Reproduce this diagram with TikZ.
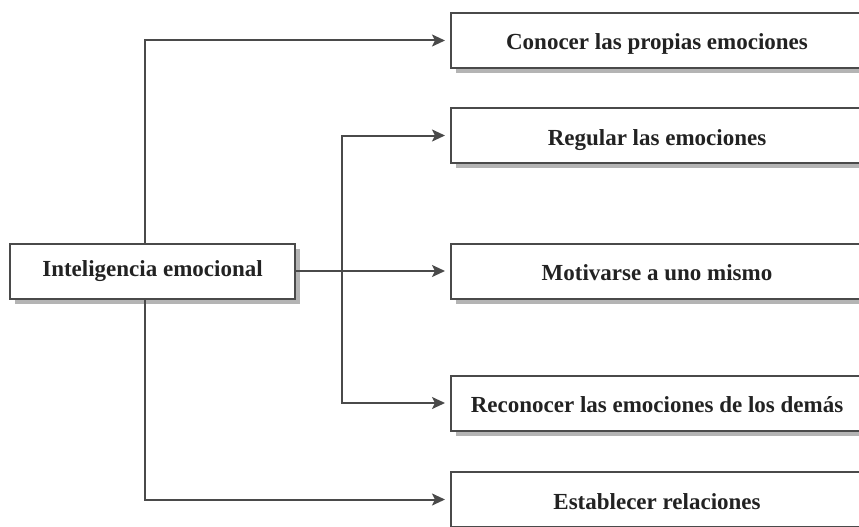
\documentclass[tikz,border=0pt]{standalone}
\usepackage{fontspec}
\setmainfont{Liberation Serif}
\usetikzlibrary{arrows.meta}
\definecolor{linec}{HTML}{4A4A4A}
\definecolor{shadowc}{HTML}{B4B4B4}
\definecolor{textc}{HTML}{222222}
\tikzset{
  box/.style={draw=linec, line width=2pt, fill=white, inner sep=0pt,
    minimum height=55pt, text=textc, text depth=0pt,
    font=\fontsize{23}{27}\selectfont\bfseries},
  leftbox/.style={box, minimum width=285pt, text height=10pt},
  rightbox/.style={box, minimum width=412pt, text height=19pt},
  shadowed/.style={preaction={fill=shadowc, transform canvas={shift={(5pt,-5pt)}}}},
  conn/.style={draw=linec, line width=2pt},
  arr/.style={conn, -{Stealth[length=13pt,width=12pt,inset=3pt]}, shorten >=5pt}
}
\begin{document}
\begin{tikzpicture}[x=1pt,y=-1pt]
\useasboundingbox (0,0) rectangle (859,527);
\clip (0,0) rectangle (859,527);
\node[leftbox, shadowed] (L) at (152.5,271) {Inteligencia emocional};
\node[rightbox, shadowed] (B1) at (657,40.5) {Conocer las propias emociones};
\node[rightbox, shadowed] (B2) at (657,135.5) {Regular las emociones};
\node[rightbox, shadowed] (B3) at (657,271) {Motivarse a uno mismo};
\node[rightbox, shadowed] (B4) at (657,403) {Reconocer las emociones de los demás};
\node[rightbox, shadowed] (B5) at (657,499.5) {Establecer relaciones};
\coordinate (v1) at (145,0);
\coordinate (v2) at (342,271);
\draw[arr] (v1 |- L.north) |- (B1.west);
\draw[arr] (v1 |- L.south) |- (B5.west);
\draw[arr] (L.east) -- (L.east -| B3.west);
\draw[arr] (v2) |- (B2.west);
\draw[arr] (v2) |- (B4.west);
\end{tikzpicture}
\end{document}
